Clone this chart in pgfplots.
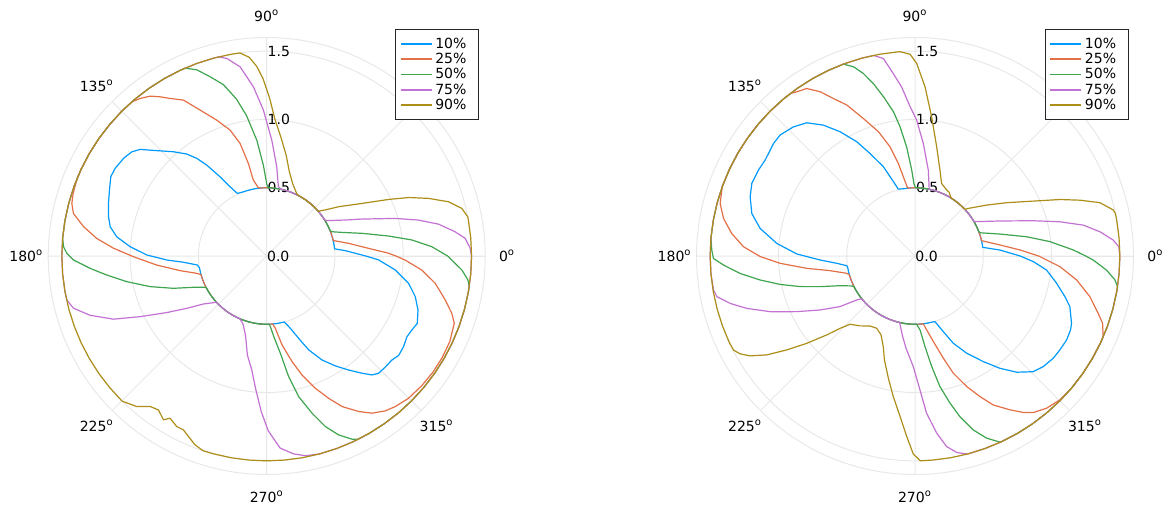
\documentclass[border=0pt]{standalone}
\usepackage{pgfplots}
\pgfplotsset{compat=1.18}
\usepgfplotslibrary{polar}
\usepackage{fontspec}
\setmainfont{DejaVu Sans}
\definecolor{c1}{RGB}{0,154,250}
\definecolor{c2}{RGB}{227,111,71}
\definecolor{c3}{RGB}{62,164,78}
\definecolor{c4}{RGB}{195,113,210}
\definecolor{c5}{RGB}{172,142,24}
\newcommand{\fs}{\fontsize{7}{8.4}\selectfont}
\newcommand{\dg}{\textsuperscript{o}}
\pgfplotsset{
  legend image code/.code={\draw[#1, line width=0.9pt] (0pt,0pt) -- (15.5pt,0pt);},
  mypolar/.style={
    scale only axis, width=218.5pt, height=218.5pt,
    anchor=origin, clip=false,
    xmin=0, xmax=360, ymin=0, ymax=1.6,
    xtick={0,45,...,315},
    xticklabels={,,,,,,,},
    ytick={0.5,1,1.5},
    yticklabels={,,},
    grid=major,
    major grid style={black!9, line width=0.5pt},
    axis line style={black!9, line width=0.5pt},
    major tick length=0pt,
    legend cell align=left,
    legend style={anchor=north east, draw=black!85, line width=0.5pt, fill=white,
      font=\fs, inner xsep=2pt, inner ysep=3.3pt, row sep=0pt,
      nodes={inner xsep=1.4pt, inner ysep=0.6pt, text height=5.4pt, text depth=1.1pt}},
  },
  s1/.style={color=c1, line width=0.6pt, line join=round},
  s2/.style={color=c2, line width=0.6pt, line join=round},
  s3/.style={color=c3, line width=0.6pt, line join=round},
  s4/.style={color=c4, line width=0.6pt, line join=round},
  s5/.style={color=c5, line width=0.6pt, line join=round},
}
\newcommand{\rlabels}{%
  \node[font=\fs, anchor=west, inner sep=0pt] at (axis cs:0,0) {0.0};
  \node[font=\fs, anchor=west, inner sep=0pt, xshift=0.3pt] at (axis cs:90,0.5) {0.5};
  \node[font=\fs, anchor=west, inner sep=0pt, xshift=0.3pt] at (axis cs:90,1) {1.0};
  \node[font=\fs, anchor=west, inner sep=0pt, xshift=0.3pt] at (axis cs:90,1.5) {1.5};
  \node[font=\fs, inner sep=0pt] at (axis cs:0,1.76) {0\dg};
  \node[font=\fs, inner sep=0pt] at (axis cs:90,1.76) {90\dg};
  \node[font=\fs, inner sep=0pt] at (axis cs:135,1.76) {135\dg};
  \node[font=\fs, inner sep=0pt] at (axis cs:180,1.76) {180\dg};
  \node[font=\fs, inner sep=0pt] at (axis cs:225,1.76) {225\dg};
  \node[font=\fs, inner sep=0pt] at (axis cs:270,1.76) {270\dg};
  \node[font=\fs, inner sep=0pt] at (axis cs:315,1.76) {315\dg};
}
\newcommand{\pad}{\hspace*{2.8pt}}
\begin{document}
\begin{tikzpicture}
\useasboundingbox (0,0) rectangle (582.5pt,255pt);
% ---------------- left ----------------
\begin{polaraxis}[mypolar, at={(133.35pt,127pt)}, legend style={at={(0.9865,1.0195)}}]
\rlabels
\addplot[s1] coordinates {(0,0.726)(0.6,0.698)(3.9,0.577)(6,0.5)(10,0.5)(15,0.5)(20,0.5)(25,0.5)(30,0.5)(35,0.5)(40,0.5)(45,0.5)(50,0.5)(55,0.5)(60,0.5)(65,0.5)(70,0.5)(75,0.5)(80,0.5)(85,0.5)(90,0.5)(95,0.5)(100,0.5)(105,0.5)(110,0.5)
(115.1,0.506)(117.9,0.574)(120.5,0.673)(123.4,0.798)(125.6,0.879)(128.1,0.949)(131.8,1.024)(136.2,1.115)(139.9,1.212)(142.3,1.248)(145.7,1.269)(150,1.282)(153,1.281)(157.2,1.249)(161.6,1.221)(166,1.194)(169.4,1.166)(172.7,1.107)(176.1,1.002)(179.5,0.878)(182.3,0.732)(184.3,0.611)(187.4,0.512)
(190,0.5)(195,0.5)(200,0.5)(205,0.5)(210,0.5)(215,0.5)(220,0.5)(225,0.5)(230,0.5)(235,0.5)(240,0.5)(245,0.5)(250,0.5)(255,0.5)(260,0.5)(265,0.5)(270,0.5)(275,0.5)(280,0.5)(285,0.5)
(288.1,0.557)(291.2,0.646)(294.1,0.753)(298,0.862)(302,0.949)(305.7,1.028)(309.1,1.106)(311.5,1.163)(313.7,1.187)(317,1.19)(320.3,1.192)(323,1.21)(326.5,1.202)(330,1.185)(333,1.193)(335.9,1.208)(340.4,1.176)(344.7,1.128)(349.1,1.058)(353.8,0.947)(358,0.82)(360,0.726)};
\addlegendentry{10\%\pad}
\addplot[s2] coordinates {(0,0.946)(1.3,0.893)(4.3,0.748)(8.8,0.607)(13.1,0.5)(15,0.5)(20,0.5)(25,0.5)(30,0.5)(35,0.5)(40,0.5)(45,0.5)(50,0.5)(55,0.5)(60,0.5)(65,0.5)(70,0.5)(75,0.5)(80,0.5)(85,0.5)(90,0.5)(95,0.5)
(97,0.504)(100,0.565)(101.2,0.691)(103.3,0.847)(106.2,0.96)(110.2,1.06)(114.5,1.174)(118.1,1.294)(121.5,1.353)(123.8,1.403)(126.1,1.449)(128.8,1.48)(131.2,1.5)
(135,1.5)(140,1.5)(145,1.5)(150,1.5)(155,1.5)(157.5,1.5)
(162,1.49)(164.9,1.478)(167.6,1.449)(170.9,1.358)(174.1,1.251)(177.1,1.123)(180.3,0.976)(184.7,0.808)(189.6,0.643)(193.9,0.528)(195.8,0.5)
(200,0.5)(205,0.5)(210,0.5)(215,0.5)(220,0.5)(225,0.5)(230,0.5)(235,0.5)(240,0.5)(245,0.5)(250,0.5)(255,0.5)(260,0.5)(265,0.5)(270,0.5)(275,0.5)
(276.8,0.533)(279.8,0.661)(283.5,0.795)(286.5,0.908)(290.2,1.032)(293.5,1.136)(296.6,1.233)(300.6,1.323)(303.8,1.385)(307.4,1.428)(310.5,1.45)(314.9,1.471)(320,1.48)(325,1.485)(330,1.485)(335,1.48)(340.3,1.459)(342.8,1.419)(346.2,1.346)(350.8,1.25)(354.8,1.141)(358.3,1.015)(360,0.946)};
\addlegendentry{25\%\pad}
\addplot[s3] coordinates {(0,1.325)(3.2,1.212)(6.3,1.07)(9.3,0.905)(13.4,0.717)(17.4,0.578)(20.4,0.51)(22,0.5)(25,0.5)(30,0.5)(35,0.5)(40,0.5)(45,0.5)(50,0.5)(55,0.5)(60,0.5)(65,0.5)(70,0.5)(75,0.5)(80,0.5)(85,0.5)(89,0.5)
(90,0.53)(92.1,0.665)(94.9,0.852)(98.2,1.04)(100.9,1.17)(104.2,1.295)(107.5,1.376)(110.6,1.457)(113.5,1.5)
(115,1.5)(120,1.5)(125,1.5)(130,1.5)(135,1.5)(140,1.5)(145,1.5)(150,1.5)(155,1.5)(160,1.5)(165,1.5)(170,1.5)(175,1.5)
(177.4,1.489)(179.2,1.464)(181.2,1.415)(184,1.296)(186.8,1.179)(190.4,1.041)(194.7,0.883)(199.1,0.723)(203.1,0.584)(206.3,0.517)(207.5,0.5)
(210,0.5)(215,0.5)(220,0.5)(225,0.5)(230,0.5)(235,0.5)(240,0.5)(245,0.5)(250,0.5)(255,0.5)(260,0.5)(265,0.5)(270,0.5)(272,0.5)
(273,0.518)(275,0.592)(278,0.719)(280.3,0.897)(282.8,1.056)(286.1,1.198)(289,1.321)(291.9,1.412)(295,1.48)(296.5,1.5)
(300,1.5)(305,1.5)(310,1.5)(315,1.5)(320,1.5)(325,1.5)(330,1.5)(335,1.5)(340,1.5)(345,1.5)(350,1.5)(351.4,1.5)
(353.2,1.484)(355.9,1.433)(360,1.325)};
\addlegendentry{50\%\pad}
\addplot[s4] coordinates {(0,1.5)(2.2,1.491)(5.1,1.459)(7.3,1.392)(10.5,1.28)(13.3,1.143)(16.3,0.981)(21.2,0.748)(24.6,0.633)(30.4,0.512)(32,0.5)(35,0.5)(40,0.5)(45,0.5)(50,0.5)(55,0.5)(60,0.5)(65,0.5)(70,0.5)(75,0.5)(78,0.5)
(80.4,0.514)(83.6,0.658)(87.5,0.85)(91.3,1.069)(94.5,1.243)(98,1.399)(101.4,1.476)(103.6,1.5)
(105,1.5)(110,1.5)(115,1.5)(120,1.5)(125,1.5)(130,1.5)(135,1.5)(140,1.5)(145,1.5)(150,1.5)(155,1.5)(160,1.5)(165,1.5)(170,1.5)(175,1.5)(180,1.5)(185,1.5)(190,1.5)
(192.4,1.499)(195.1,1.466)(198.5,1.366)(202.4,1.214)(205.6,1.028)(209.5,0.841)(213.2,0.7)(217.2,0.581)(221.2,0.519)(222.5,0.5)
(225,0.5)(230,0.5)(235,0.5)(240,0.5)(245,0.5)(247,0.5)
(251,0.53)(255,0.6)(259,0.74)(262.5,0.84)(265.5,0.99)(268,1.14)(270.5,1.28)(274,1.41)(277.7,1.462)(281,1.49)
(285,1.5)(290,1.5)(295,1.5)(300,1.5)(305,1.5)(310,1.5)(315,1.5)(320,1.5)(325,1.5)(330,1.5)(335,1.5)(340,1.5)(345,1.5)(350,1.5)(355,1.5)(360,1.5)};
\addlegendentry{75\%\pad}
\addplot[s5] coordinates {(0,1.5)(5,1.5)(10,1.5)(11,1.5)(13.7,1.471)(16.6,1.39)(19.6,1.258)(22.4,1.124)(24.9,0.984)(28.9,0.797)(34.4,0.639)(38.5,0.54)(41,0.5)(45,0.5)(50,0.5)(55,0.5)(60,0.5)(62,0.5)
(64,0.505)(70,0.56)(75,0.64)(79,0.75)(83,0.87)(86.5,1)(89,1.16)(91.2,1.3)(93,1.39)(95,1.46)(97.5,1.5)
(100,1.5)(105,1.5)(110,1.5)(115,1.5)(120,1.5)(125,1.5)(130,1.5)(135,1.5)(140,1.5)(145,1.5)(150,1.5)(155,1.5)(160,1.5)(165,1.5)(170,1.5)(175,1.5)(180,1.5)(185,1.5)(190,1.5)(195,1.5)(200,1.5)(205,1.5)(210,1.5)(215,1.5)(220,1.5)(225,1.5)
(225.5,1.496)(229.2,1.456)(232.2,1.394)(234.9,1.378)(237.8,1.418)(239.2,1.383)(242.2,1.412)(244.4,1.412)(246.6,1.441)(249.2,1.479)(251.9,1.5)
(255,1.5)(260,1.5)(265,1.5)(270,1.5)(275,1.5)(280,1.5)(285,1.5)(290,1.5)(295,1.5)(300,1.5)(305,1.5)(310,1.5)(315,1.5)(320,1.5)(325,1.5)(330,1.5)(335,1.5)(340,1.5)(345,1.5)(350,1.5)(355,1.5)(360,1.5)};
\addlegendentry{90\%\pad}
\end{polaraxis}
% ---------------- right ----------------
\begin{polaraxis}[mypolar, at={(457.5pt,127pt)}, legend style={at={(0.9897,1.0195)}}]
\rlabels
\addplot[s1] coordinates {(0,0.77)(0.6,0.744)(4,0.624)(7.3,0.5)(10,0.5)(15,0.5)(20,0.5)(25,0.5)(30,0.5)(35,0.5)(40,0.5)(45,0.5)(50,0.5)(55,0.5)(60,0.5)(65,0.5)(70,0.5)(75,0.5)(80,0.5)(85,0.5)(90,0.5)(95,0.5)(100,0.5)
(104,0.505)(106.2,0.567)(109.5,0.694)(113.7,0.82)(117,0.939)(121.1,1.063)(125,1.17)(129.1,1.257)(133.3,1.299)(138.1,1.327)(141.5,1.324)(147.4,1.303)(151.2,1.308)(156,1.308)(160.2,1.283)(165.4,1.235)(169.9,1.152)(174.8,1.016)(179,0.866)(182.4,0.696)(185.3,0.576)(188.1,0.505)
(190,0.5)(195,0.5)(200,0.5)(205,0.5)(210,0.5)(215,0.5)(220,0.5)(225,0.5)(230,0.5)(235,0.5)(240,0.5)(245,0.5)(250,0.5)(255,0.5)(260,0.5)(265,0.5)(270,0.5)(275,0.5)(280,0.5)(285,0.5)
(286.9,0.502)(290.5,0.591)(293.7,0.698)(298,0.806)(302.9,0.921)(307.1,1.031)(311.2,1.131)(315.6,1.211)(319.2,1.24)(323.5,1.259)(327,1.264)(331,1.269)(334.6,1.261)(336.7,1.248)(341.9,1.193)(344.8,1.138)(349.1,1.056)(353.9,0.969)(357.3,0.867)(360,0.77)};
\addlegendentry{10\%\pad}
\addplot[s2] coordinates {(0,0.905)(3.3,0.77)(7.4,0.627)(13,0.5)(15,0.5)(20,0.5)(25,0.5)(30,0.5)(35,0.5)(40,0.5)(45,0.5)(50,0.5)(55,0.5)(60,0.5)(65,0.5)(70,0.5)(75,0.5)(80,0.5)(85,0.5)(90,0.5)(95,0.5)(96.2,0.5)
(98.1,0.574)(100.2,0.689)(102.9,0.821)(106.4,0.949)(110.6,1.076)(114.3,1.213)(117.4,1.299)(120,1.389)(122.9,1.461)(125.8,1.482)(127.5,1.5)
(130,1.5)(135,1.5)(140,1.5)(145,1.5)(150,1.5)(155,1.5)(160,1.5)
(161.1,1.495)(164.9,1.478)(168.9,1.429)(173,1.352)(176.9,1.258)(180.2,1.134)(183.1,0.989)(186.5,0.798)(189.8,0.631)(194.2,0.516)(196,0.5)
(200,0.5)(205,0.5)(210,0.5)(215,0.5)(220,0.5)(225,0.5)(230,0.5)(235,0.5)(240,0.5)(245,0.5)(250,0.5)(255,0.5)(260,0.5)(265,0.5)(270,0.5)(275,0.5)
(277,0.501)(279,0.548)(282.1,0.641)(285.5,0.777)(288.1,0.903)(291.6,1.028)(294.8,1.134)(297.7,1.232)(301.7,1.324)(304.7,1.394)(307.1,1.437)(310.8,1.473)(315.2,1.495)
(320,1.5)(325,1.5)(330,1.5)(335,1.5)
(336.8,1.499)(340.3,1.459)(342.6,1.406)(346.9,1.315)(351.6,1.196)(355.8,1.064)(359.7,0.915)(360,0.905)};
\addlegendentry{25\%\pad}
\addplot[s3] coordinates {(0,1.25)(2.2,1.159)(6.1,0.993)(9.8,0.829)(14.5,0.642)(19.7,0.505)(21,0.5)(25,0.5)(30,0.5)(35,0.5)(40,0.5)(45,0.5)(50,0.5)(55,0.5)(60,0.5)(65,0.5)(70,0.5)(75,0.5)(80,0.5)(85,0.5)(89.5,0.5)
(90.8,0.527)(92.2,0.63)(94.4,0.802)(96.6,0.953)(98.5,1.068)(101.2,1.189)(103.6,1.3)(105.8,1.389)(108,1.457)(110.5,1.5)
(115,1.5)(120,1.5)(125,1.5)(130,1.5)(135,1.5)(140,1.5)(145,1.5)(150,1.5)(155,1.5)(160,1.5)(165,1.5)(170,1.5)(175,1.5)
(178.3,1.489)(180.7,1.476)(182.7,1.404)(185.7,1.287)(188.8,1.148)(191.9,1.009)(194.9,0.871)(197.9,0.73)(201.6,0.59)(205.3,0.513)(206.5,0.5)
(210,0.5)(215,0.5)(220,0.5)(225,0.5)(230,0.5)(235,0.5)(240,0.5)(245,0.5)(250,0.5)(255,0.5)(260,0.5)(265,0.5)(270,0.5)(271.4,0.5)
(273.9,0.543)(276.3,0.667)(278.6,0.819)(280.8,0.973)(283.4,1.108)(285.6,1.221)(288.5,1.343)(291.5,1.434)(294.6,1.5)
(300,1.5)(305,1.5)(310,1.5)(315,1.5)(320,1.5)(325,1.5)(330,1.5)(335,1.5)(340,1.5)(345,1.5)(350,1.5)(351.4,1.5)
(353.2,1.474)(355.8,1.406)(358.7,1.305)(360,1.25)};
\addlegendentry{50\%\pad}
\addplot[s4] coordinates {(0,1.5)(2.6,1.494)(4.6,1.456)(7.5,1.365)(10.4,1.253)(13.3,1.09)(16.6,0.904)(22.4,0.673)(29.8,0.506)(31,0.5)(35,0.5)(40,0.5)(45,0.5)(50,0.5)(55,0.5)(60,0.5)(65,0.5)(70,0.5)(75,0.5)(78,0.5)
(81.2,0.637)(85.8,0.827)(89.3,0.995)(92,1.1)(94.5,1.24)(96.8,1.346)(99.1,1.465)(101.7,1.5)
(105,1.5)(110,1.5)(115,1.5)(120,1.5)(125,1.5)(130,1.5)(135,1.5)(140,1.5)(145,1.5)(150,1.5)(155,1.5)(160,1.5)(165,1.5)(170,1.5)(175,1.5)(180,1.5)(185,1.5)(189.6,1.496)
(191.6,1.481)(194.4,1.397)(197.3,1.29)(201,1.137)(205.2,0.957)(209.6,0.8)(214,0.662)(217,0.535)(218.7,0.5)
(220,0.5)(225,0.5)(230,0.5)(235,0.5)(240,0.5)(245,0.5)(250,0.5)(255,0.5)(257,0.5)
(258,0.52)(261.3,0.597)(264.5,0.68)(269.1,0.81)(272.1,0.98)(274.2,1.154)(277,1.307)(279.4,1.414)(282,1.471)(284.2,1.494)
(285,1.5)(290,1.5)(295,1.5)(300,1.5)(305,1.5)(310,1.5)(315,1.5)(320,1.5)(325,1.5)(330,1.5)(335,1.5)(340,1.5)(345,1.5)(350,1.5)(355,1.5)(360,1.5)};
\addlegendentry{75\%\pad}
\addplot[s5] coordinates {(0,1.5)(5,1.5)(10,1.5)(12,1.5)(13.1,1.49)(16.1,1.409)(18.7,1.275)(21.3,1.139)(24.9,0.955)(30.2,0.776)(35.4,0.644)(41.8,0.523)(43,0.5)(45,0.5)(50,0.5)(55,0.5)(58,0.5)
(62,0.53)(64.4,0.536)(69.9,0.566)(73.8,0.655)(78.8,0.816)(83.2,1.027)(86.6,1.241)(89.5,1.41)(91.4,1.478)(94.2,1.5)
(95,1.5)(100,1.5)(105,1.5)(110,1.5)(115,1.5)(120,1.5)(125,1.5)(130,1.5)(135,1.5)(140,1.5)(145,1.5)(150,1.5)(155,1.5)(160,1.5)(165,1.5)(170,1.5)(175,1.5)(180,1.5)(185,1.5)(190,1.5)(195,1.5)(200,1.5)(205,1.5)
(207.4,1.497)(209.2,1.468)(211.2,1.412)(213.7,1.305)(216.2,1.164)(218.9,1.018)(221.8,0.867)(224,0.762)(226.4,0.69)(231.8,0.651)(237.3,0.609)(242.1,0.599)(246.7,0.629)(250.7,0.703)(253.6,0.793)(257.7,0.916)(261.2,1.041)(264.7,1.181)(267.5,1.33)(269.5,1.45)(271.5,1.5)
(275,1.5)(280,1.5)(285,1.5)(290,1.5)(295,1.5)(300,1.5)(305,1.5)(310,1.5)(315,1.5)(320,1.5)(325,1.5)(330,1.5)(335,1.5)(340,1.5)(345,1.5)(350,1.5)(355,1.5)(360,1.5)};
\addlegendentry{90\%\pad}
\end{polaraxis}
\end{tikzpicture}
\end{document}
